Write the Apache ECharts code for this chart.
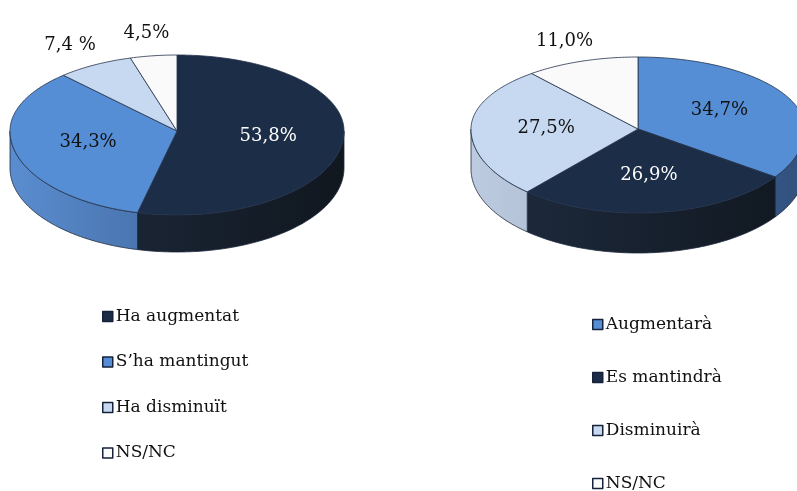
<!DOCTYPE html>
<html>
<head>
<meta charset="utf-8">
<script src="https://cdn.jsdelivr.net/npm/echarts@6/dist/echarts.min.js"></script>
<style>
  html, body { margin: 0; padding: 0; background: #fff; }
  #main { width: 797px; height: 491px; }
</style>
</head>
<body>
<div id="main"></div>
<script>
// dades
var leftNames = ['Ha augmentat', 'S\u2019ha mantingut', 'Ha disminuït', 'NS/NC'];
var leftValues = [53.8, 34.3, 7.4, 4.5];
var leftLabels = ['53,8%', '34,3%', '7,4 %', '4,5%'];

var rightNames = ['Augmentarà', 'Es mantindrà', 'Disminuirà', 'NS/NC'];
var rightValues = [34.7, 26.9, 27.5, 11.0];
var rightLabels = ['34,7%', '26,9%', '27,5%', '11,0%'];

// colors: top, side left, side right, label
var NAVY = { top: '#1c2d47', s1: '#1f2c40', s2: '#10171f', text: '#ffffff' };
var BLUE = { top: '#558ed5', s1: '#5a8dd0', s2: '#304f7c', text: '#111111' };
var LIGHT = { top: '#c6d9f1', s1: '#bccbe0', s2: '#8e9cb0', text: '#111111' };
var WHITE = { top: '#fafafa', s1: '#f2f2f2', s2: '#d0d0d0', text: '#111111' };
var leftColors = [NAVY, BLUE, LIGHT, WHITE];
var rightColors = [BLUE, NAVY, LIGHT, WHITE];

var FONT = 'DejaVu Serif';

function pie3d(values, labels, colors, g) {
    var total = values.reduce(function(a, b){ return a + b; }, 0);
    var starts = [];
    var acc = 0;
    values.forEach(function(v){ starts.push(acc); acc += v; });

    function pt(t, dz) {
        var c = Math.cos(t);
        var ry = c > 0 ? g.ryB : g.ryF;
        return [g.cx + g.rx * Math.sin(t), g.cy - ry * c + dz];
    }
    function arc(a, b, dz) {
        var n = Math.max(2, Math.ceil(Math.abs(b - a) / 0.02));
        var out = [];
        for (var k = 0; k <= n; k++) out.push(pt(a + (b - a) * k / n, dz));
        return out;
    }

    return {
        type: 'custom',
        coordinateSystem: 'none',
        silent: true,
        data: values.map(function(v){ return [v]; }),
        renderItem: function(params, api) {
            var i = params.dataIndex;
            var v = api.value(0);
            var a0 = starts[i] / total * Math.PI * 2;
            var a1 = a0 + v / total * Math.PI * 2;
            var col = colors[i];
            var children = [];

            // cara lateral (només la meitat davantera)
            var s = Math.max(a0, Math.PI / 2), e = Math.min(a1, Math.PI * 1.5);
            if (s < e) {
                var side = arc(s, e, 0).concat(arc(e, s, g.depth));
                children.push({
                    type: 'polygon',
                    shape: { points: side },
                    style: {
                        fill: {
                            type: 'linear', global: true,
                            x: g.cx - g.rx, y: 0, x2: g.cx + g.rx, y2: 0,
                            colorStops: [{ offset: 0, color: col.s1 }, { offset: 1, color: col.s2 }]
                        },
                        stroke: '#1e2a3c', lineWidth: 0.8
                    }
                });
            }

            // cara superior
            var top = [[g.cx, g.cy]].concat(arc(a0, a1, 0));
            children.push({
                type: 'polygon',
                shape: { points: top },
                style: { fill: col.top, stroke: '#24324a', lineWidth: 0.8 }
            });

            // etiqueta
            var mid = (a0 + a1) / 2;
            var f = v > 20 ? 0.55 : 1.3;
            var c = Math.cos(mid);
            var ry = c > 0 ? g.ryB : g.ryF;
            children.push({
                type: 'text',
                z2: 10,
                x: g.cx + f * g.rx * Math.sin(mid),
                y: g.cy - f * ry * c,
                style: {
                    text: labels[i],
                    fill: v > 20 ? col.text : '#111111',
                    font: '18px "' + FONT + '"',
                    align: 'center',
                    verticalAlign: 'middle'
                }
            });
            return { type: 'group', children: children };
        }
    };
}

// pastissos ocults només per a la llegenda
function legendPie(names, values, colors) {
    return {
        type: 'pie',
        radius: [0, 0],
        center: [-100, -100],
        silent: true,
        label: { show: false },
        labelLine: { show: false },
        data: names.map(function(n, i){
            return { name: n, value: values[i], itemStyle: { color: colors[i].top } };
        })
    };
}

var legendBase = {
    orient: 'vertical',
    icon: 'rect',
    itemWidth: 10,
    itemHeight: 10,
    padding: 0,
    height: 220,
    selectedMode: false,
    itemStyle: { borderColor: '#15223a', borderWidth: 1.5 },
    textStyle: { fontFamily: FONT, fontSize: 17, color: '#111111', padding: [0, 0, 0, -2] }
};

var chart = echarts.init(document.getElementById('main'));
chart.setOption({
    animation: false,
    legend: [
        Object.assign({}, legendBase, { data: leftNames, left: 102, top: 308, itemGap: 28.5 }),
        Object.assign({}, legendBase, { data: rightNames, left: 592, top: 316, itemGap: 36 })
    ],
    series: [
        pie3d(leftValues, leftLabels, leftColors, { cx: 177, cy: 131, rx: 167, ryB: 76, ryF: 84, depth: 37 }),
        pie3d(rightValues, rightLabels, rightColors, { cx: 638, cy: 129, rx: 167, ryB: 72, ryF: 84, depth: 40 }),
        legendPie(leftNames, leftValues, leftColors),
        legendPie(rightNames, rightValues, rightColors)
    ]
});
</script>
</body>
</html>
